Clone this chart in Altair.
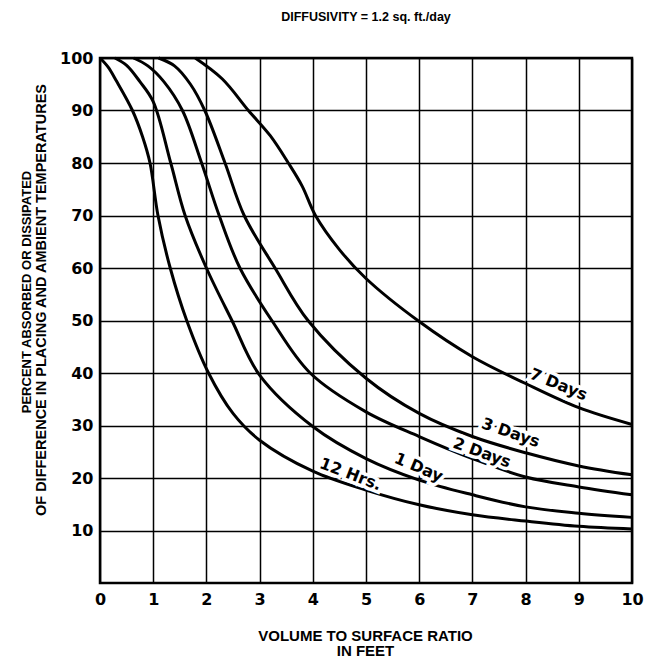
import altair as alt
import pandas as pd

# ---- data ----
x_12h = [0.0, 0.15, 0.31, 0.61, 0.80, 0.94, 1.09, 1.32, 1.63, 2.04, 2.5, 3.0, 4.0, 5.0, 6.0, 7.0, 8.0, 9.0, 10.0]
y_12h = [100, 98.3, 95.6, 90, 85, 80, 70, 60, 50, 40, 32.3, 27.2, 21.3, 17.7, 14.9, 13.0, 11.8, 10.8, 10.3]

x_1d = [0.28, 0.50, 0.75, 1.0, 1.33, 1.60, 2.00, 2.48, 3.0, 4.0, 5.0, 6.0, 7.0, 8.0, 9.0, 10.0]
y_1d = [100, 98.6, 95.5, 91.7, 80, 70, 60, 50, 39.6, 29.8, 23.7, 19.6, 16.8, 14.5, 13.3, 12.5]

x_2d = [0.63, 0.90, 1.20, 1.55, 1.91, 2.24, 2.63, 3.23, 3.95, 5.0, 6.0, 7.0, 8.0, 9.0, 10.0]
y_2d = [100, 98.5, 95.5, 90, 80, 70, 60, 50, 40, 32.6, 27.9, 23.7, 20.2, 18.3, 16.8]

x_3d = [1.10, 1.40, 1.70, 1.97, 2.35, 2.71, 3.29, 3.91, 5.0, 6.0, 7.0, 8.0, 9.0, 10.0]
y_3d = [100, 98.5, 95.0, 90, 80, 70, 60, 50, 39.0, 32.3, 27.9, 24.8, 22.3, 20.6]

x_7d = [1.79, 2.30, 2.79, 3.20, 3.54, 3.80, 4.05, 4.5, 5.0, 6.0, 7.0, 8.0, 9.0, 10.0]
y_7d = [100, 96.0, 90, 85.2, 80, 75.6, 70, 63.5, 58, 49.8, 43.1, 38.0, 33.4, 30.2]

series_names = ["12 Hrs.", "1 Day", "2 Days", "3 Days", "7 Days"]
series_x = [x_12h, x_1d, x_2d, x_3d, x_7d]
series_y = [y_12h, y_1d, y_2d, y_3d, y_7d]

label_text = ["12 Hrs.", "1 Day", "2 Days", "3 Days", "7 Days"]
label_x = [4.71, 5.99, 7.18, 7.72, 8.62]
label_y = [20.7, 22.0, 24.8, 28.6, 37.8]
label_angle = [21, 23, 20, 19, 22]

x_ticks = [0, 1, 2, 3, 4, 5, 6, 7, 8, 9, 10]
y_ticks = [10, 20, 30, 40, 50, 60, 70, 80, 90, 100]

chart_title = "DIFFUSIVITY = 1.2 sq. ft./day"
x_title = ["VOLUME TO SURFACE RATIO", "IN FEET"]
y_title_1 = "PERCENT ABSORBED OR DISSIPATED"
y_title_2 = "OF DIFFERENCE IN PLACING AND AMBIENT TEMPERATURES"

# ---- tables ----
rows = []
for name, xs, ys in zip(series_names, series_x, series_y):
    for i, (a, b) in enumerate(zip(xs, ys)):
        rows.append({"series": name, "x": a, "y": b, "order": i})
df = pd.DataFrame(rows)

labels = pd.DataFrame({"t": label_text, "x": label_x, "y": label_y, "a": label_angle})

X = alt.X("x:Q",
          scale=alt.Scale(domain=[0, 10], nice=False, zero=False),
          axis=alt.Axis(values=x_ticks, title=x_title, grid=True, ticks=False, domain=False,
                        labelFlush=False, labelOverlap=False, labelPadding=8,
                        labelFont="DejaVu Sans", labelFontWeight="bold", labelFontSize=16,
                        labelColor="black", format="d",
                        gridColor="black", gridWidth=1.5, gridOpacity=1,
                        titleFont="Liberation Sans", titleFontWeight="bold", titleFontSize=15,
                        titleColor="black", titleX=265, titleY=52, titleBaseline="middle",
                        titleLineHeight=15.5))
Y = alt.Y("y:Q",
          scale=alt.Scale(domain=[0, 100], nice=False, zero=False),
          axis=alt.Axis(values=y_ticks, title=None, grid=True, ticks=False, domain=False,
                        labelOverlap=False, labelPadding=7,
                        labelFont="DejaVu Sans", labelFontWeight="bold", labelFontSize=16,
                        labelColor="black", format="d",
                        gridColor="black", gridWidth=1.5, gridOpacity=1))

lines = alt.Chart(df).mark_line(color="black", strokeWidth=3, interpolate="catmull-rom").encode(
    x=X, y=Y, detail="series:N", order="order:Q")

halo = alt.Chart(labels).mark_text(font="DejaVu Sans", fontWeight="bold", fontSize=16,
                                   color="white", stroke="white", strokeWidth=7).encode(
    x=X, y=Y, text="t:N", angle=alt.Angle("a:Q", scale=None))

txt = alt.Chart(labels).mark_text(font="DejaVu Sans", fontWeight="bold", fontSize=16,
                                  color="black").encode(
    x=X, y=Y, text="t:N", angle=alt.Angle("a:Q", scale=None))

ttl = alt.Chart(pd.DataFrame({"t": [chart_title]})).mark_text(
    font="Liberation Sans", fontWeight="bold", fontSize=12.5, color="black").encode(
    x=alt.value(266), y=alt.value(-41), text="t:N")

ytl1 = alt.Chart(pd.DataFrame({"t": [y_title_1]})).mark_text(
    font="Liberation Sans", fontWeight="bold", fontSize=13, color="black",
    angle=270, baseline="middle", align="center").encode(
    x=alt.value(-73), y=alt.value(234), text="t:N")

ytl2 = alt.Chart(pd.DataFrame({"t": [y_title_2]})).mark_text(
    font="Liberation Sans", fontWeight="bold", fontSize=14.5, color="black",
    angle=270, baseline="middle", align="center").encode(
    x=alt.value(-58), y=alt.value(242), text="t:N")

chart = alt.layer(lines, halo, txt, ttl, ytl1, ytl2).properties(
    width=532, height=525,
    autosize=alt.AutoSizeParams(type="none"),
    padding={"left": 100, "top": 58, "right": 27, "bottom": 78},
    background="white",
).configure_view(stroke="black", strokeWidth=2.5)

chart.save("out.html", embed_options={"renderer": "svg", "actions": False})
